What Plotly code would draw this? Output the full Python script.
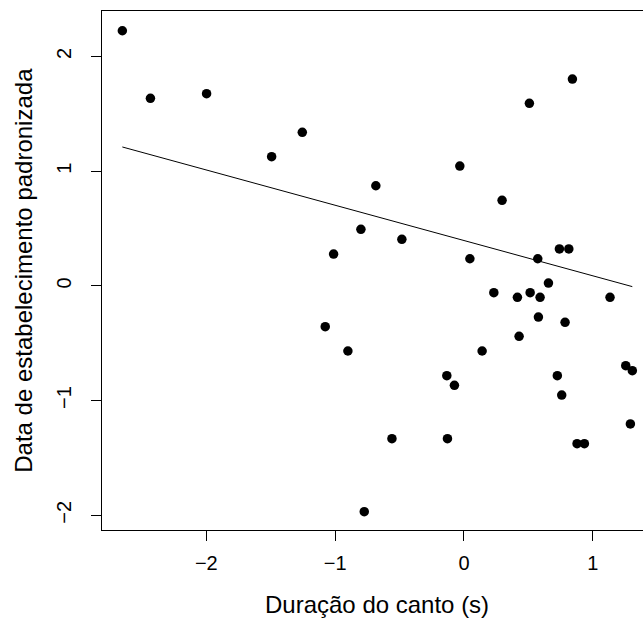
import plotly.graph_objects as go

# Data
duracao = [-2.652, -2.434, -1.998, -1.255, -1.493, -0.800, -1.012,
           0.842, 0.508, -0.032, -0.684, 0.296, -0.482, 0.046, 0.573,
           0.741, 0.814, 0.656, 0.232, 0.415, 0.514, 0.591, 1.134,
           0.578, 0.785, 0.428, 0.141, -0.133, -0.074, 0.725, 0.759,
           1.256, 1.307, 1.292, -0.559, -0.128, 0.878, 0.935, -0.774,
           -1.077, -0.901]
data_estab = [2.223, 1.634, 1.674, 1.338, 1.125, 0.492, 0.277,
              1.802, 1.590, 1.044, 0.872, 0.745, 0.405, 0.236, 0.236,
              0.321, 0.321, 0.024, -0.060, -0.100, -0.060, -0.100, -0.100,
              -0.272, -0.318, -0.440, -0.568, -0.783, -0.867, -0.783, -0.952,
              -0.696, -0.740, -1.204, -1.332, -1.332, -1.376, -1.376, -1.968,
              -0.356, -0.568]

# fitted line end points
fit_x = [-2.652, 1.307]
fit_y = [1.210, -0.007]

x_ticks = [-2, -1, 0, 1]
x_tick_text = ["\u22122", "\u22121", "0", "1"]
y_ticks = [-2, -1, 0, 1, 2]
y_tick_text = ["\u22122", "\u22121", "0", "1", "2"]

x_title = "Duração do canto (s)"
y_title = "Data de estabelecimento padronizada"

FONT = "Liberation Sans, Arial, Helvetica, sans-serif"

fig = go.Figure()
fig.add_trace(go.Scatter(
    x=fit_x, y=fit_y, mode="lines",
    line=dict(color="black", width=1), showlegend=False, hoverinfo="skip"))
fig.add_trace(go.Scatter(
    x=duracao, y=data_estab, mode="markers",
    marker=dict(color="black", size=9.5, line=dict(width=0)),
    showlegend=False))

fig.update_layout(
    width=643, height=622,
    margin=dict(l=102, r=0, t=11, b=92),
    paper_bgcolor="white", plot_bgcolor="white",
    font=dict(family=FONT, color="black", size=20),
    xaxis=dict(
        range=[-2.81, 1.39], showgrid=False, zeroline=False,
        showline=True, linecolor="black", linewidth=1, mirror=True,
        ticks="outside", ticklen=10, tickwidth=1, tickcolor="black",
        tickvals=x_ticks, ticktext=x_tick_text,
        tickfont=dict(size=20, family=FONT, color="black"),
        ticklabelstandoff=5,
    ),
    yaxis=dict(
        range=[-2.128, 2.395], showgrid=False, zeroline=False,
        showline=True, linecolor="black", linewidth=1, mirror=False,
        ticks="outside", ticklen=10, tickwidth=1, tickcolor="black",
        tickvals=y_ticks, ticktext=y_tick_text, tickangle=-90,
        tickfont=dict(size=20, family=FONT, color="black"),
        ticklabelstandoff=12,
    ),
    annotations=[
        dict(text=x_title, xref="x", yref="paper", x=-0.672, y=-0.1426,
             xanchor="center", yanchor="middle", showarrow=False,
             font=dict(size=24, family=FONT, color="black")),
        dict(text=y_title, xref="paper", yref="paper", x=-0.1455, y=0.5,
             xanchor="center", yanchor="middle", showarrow=False, textangle=-90,
             font=dict(size=24, family=FONT, color="black")),
    ],
)

fig.write_html("out.html")
